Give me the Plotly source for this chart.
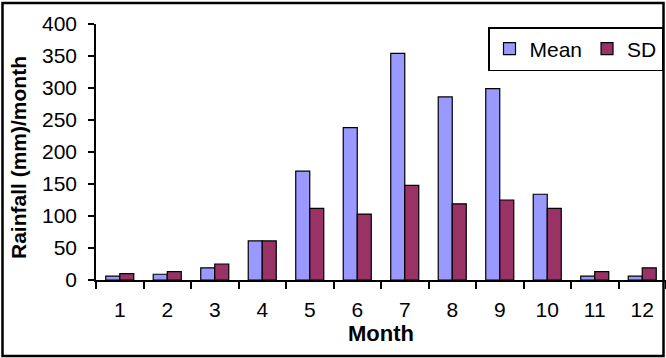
import plotly.graph_objects as go

months = ["1", "2", "3", "4", "5", "6", "7", "8", "9", "10", "11", "12"]
mean_vals = [6, 9, 19, 61, 170, 238, 354, 286, 299, 134, 6, 6]
sd_vals = [10, 13, 25, 61, 112, 103, 148, 119, 125, 112, 13, 19]
y_ticks = [0, 50, 100, 150, 200, 250, 300, 350, 400]

FONT = "Arial, Liberation Sans, sans-serif"

W, H = 666, 358
L, R, T, B = 96, 0, 24, 78
pw, ph = W - L - R, H - T - B

def px_x(px):
    return (px - L) / pw

def px_y(py):
    return (H - B - py) / ph

fig = go.Figure()
fig.add_trace(go.Bar(x=months, y=mean_vals, name="Mean",
                     marker=dict(color="#9999FF", line=dict(color="black", width=1.2))))
fig.add_trace(go.Bar(x=months, y=sd_vals, name="SD",
                     marker=dict(color="#993366", line=dict(color="black", width=1.2))))

fig.update_layout(
    width=W, height=H,
    margin=dict(l=L, r=R, t=T, b=B),
    paper_bgcolor="white", plot_bgcolor="white",
    barmode="group", bargap=0.41, bargroupgap=0,
    font=dict(family=FONT, size=21, color="black"),
    showlegend=True,
    legend=dict(orientation="h", x=px_x(663), y=px_y(27), xanchor="right", yanchor="top",
                bgcolor="white", bordercolor="black", borderwidth=1.5,
                font=dict(size=21, family=FONT), itemwidth=30, tracegroupgap=0),
    xaxis=dict(type="category", showline=True, linecolor="black", linewidth=1.5,
               ticks="outside", ticklen=7, tickwidth=1.5, tickcolor="black",
               tickson="boundaries", showgrid=False, ticklabelstandoff=10,
               tickfont=dict(size=21, family=FONT),
               title=dict(text="<b>Month</b>", font=dict(size=22, family=FONT), standoff=2)),
    yaxis=dict(range=[0, 400], tickvals=y_ticks, showline=True, linecolor="black", linewidth=1.5,
               ticks="outside", ticklen=6, tickwidth=1.5, tickcolor="black",
               showgrid=False, zeroline=False, ticklabelstandoff=7,
               tickfont=dict(size=21, family=FONT)),
)

fig.add_annotation(text="<b>Rainfall (mm)/month</b>", textangle=-90,
                   xref="paper", yref="paper", x=px_x(18), y=px_y(158),
                   xanchor="center", yanchor="middle", showarrow=False,
                   font=dict(size=21, family=FONT, color="black"))

fig.add_shape(type="rect", xref="paper", yref="paper",
              x0=px_x(2.5), x1=px_x(663.5), y0=px_y(356), y1=px_y(3),
              line=dict(color="black", width=2.5), fillcolor="rgba(0,0,0,0)", layer="below")

fig.write_html("out.html")
